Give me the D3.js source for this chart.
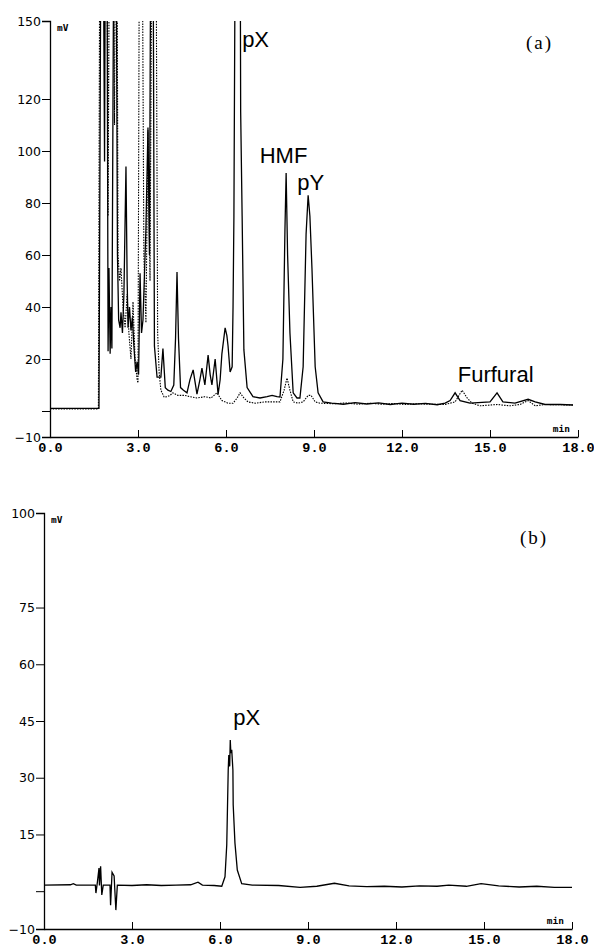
<!DOCTYPE html>
<html>
<head>
<meta charset="utf-8">
<script src="https://cdn.jsdelivr.net/npm/d3@7"></script>
<style>
  body { margin: 0; background: #fff; }
  .ytick text { font-family: "DejaVu Sans", Verdana, sans-serif; font-size: 12.5px; fill: #000; }
  .xtick text { font-family: "Liberation Mono", "Courier New", monospace; font-size: 13.5px; font-weight: bold; fill: #000; }
  .unit { font-family: "DejaVu Sans Mono", monospace; font-size: 9.5px; font-weight: bold; fill: #000; }
  .peak { font-family: "Liberation Sans", Arial, sans-serif; font-size: 22px; fill: #000; }
  .panel { font-family: "Liberation Serif", "Times New Roman", serif; font-size: 19px; letter-spacing: 2px; fill: #000; }
</style>
</head>
<body>
<div id="chart"></div>
<script>
// retention time (min), signal (mV)
var xTicks = [0, 3, 6, 9, 12, 15, 18];
var yTicksA = [150, 120, 100, 80, 60, 40, 20, 0, -10];
var yTicksB = [100, 75, 60, 45, 30, 15, 0, -10];

// (a) sample trace, solid
var solidA = [
  [0, 1], [1.67, 1], [1.74, 200], [1.81, 200], [1.86, 96], [1.89, 200], [1.94, 200],
  [1.98, 23], [2.01, 55], [2.05, 22], [2.08, 40], [2.11, 24], [2.18, 200], [2.25, 200],
  [2.30, 60], [2.34, 35], [2.39, 32], [2.42, 38], [2.47, 30], [2.52, 45], [2.59, 94],
  [2.63, 50], [2.66, 32], [2.71, 40], [2.76, 31], [2.81, 36], [2.86, 25], [2.92, 15],
  [2.97, 19], [3.02, 14], [3.07, 53], [3.12, 30], [3.17, 35], [3.27, 70], [3.34, 109],
  [3.39, 60], [3.44, 200], [3.51, 200], [3.56, 25], [3.65, 13], [3.78, 13], [3.85, 24],
  [3.93, 9], [4.02, 8], [4.12, 7.5], [4.22, 10], [4.28, 28], [4.33, 53.5], [4.38, 28],
  [4.45, 9], [4.55, 8], [4.67, 7], [4.77, 12], [4.88, 15.8], [5.01, 6.5], [5.11, 12],
  [5.18, 16.5], [5.28, 10], [5.39, 21.5], [5.46, 14], [5.52, 10], [5.63, 20], [5.73, 6.4],
  [5.80, 12], [5.86, 22], [5.97, 32], [6.03, 29], [6.07, 25], [6.14, 15], [6.21, 17],
  [6.24, 40], [6.27, 75], [6.32, 200], [6.48, 200], [6.50, 115], [6.55, 75], [6.61, 23.5],
  [6.72, 9], [6.92, 5.5], [7.16, 5], [7.40, 5.5], [7.57, 6], [7.74, 5.5], [7.84, 5.4],
  [7.94, 20], [8.01, 70], [8.05, 91.5], [8.10, 60], [8.18, 30], [8.29, 7], [8.42, 5],
  [8.52, 5], [8.63, 17], [8.73, 68], [8.80, 83], [8.86, 75], [8.93, 55], [9.04, 17],
  [9.14, 7], [9.31, 3.5], [9.6, 3.0], [10.0, 2.6], [10.4, 3.2], [10.8, 2.7], [11.2, 3.1],
  [11.6, 2.5], [12.0, 3.0], [12.4, 2.6], [12.8, 2.9], [13.2, 2.4], [13.47, 3], [13.64, 4],
  [13.81, 7], [13.98, 4], [14.32, 3], [15.00, 3.5], [15.24, 7], [15.44, 3.5], [15.85, 3],
  [16.30, 4.5], [16.54, 3.5], [16.88, 2.5], [17.39, 2.5], [17.83, 2.3]
];

// (a) standard trace, dotted
var dottedA = [
  [0, 0.8], [1.65, 0.8], [1.70, 200], [1.94, 200], [1.98, 75], [2.03, 200], [2.15, 200],
  [2.20, 110], [2.23, 200], [2.28, 200], [2.32, 60], [2.37, 50], [2.42, 55], [2.49, 40],
  [2.56, 32], [2.63, 45], [2.69, 30], [2.76, 20], [2.83, 42], [2.90, 20], [2.97, 12],
  [3.00, 10.8], [3.05, 200], [3.14, 200], [3.20, 60], [3.27, 34], [3.34, 108], [3.41, 50],
  [3.48, 200], [3.61, 200], [3.67, 30], [3.72, 15], [3.78, 8], [3.89, 5.4], [3.99, 5.5],
  [4.09, 6], [4.19, 7], [4.36, 6], [4.60, 6], [4.77, 5.5], [5.01, 5], [5.28, 5.5],
  [5.49, 5], [5.69, 7], [5.86, 4], [6.07, 3], [6.24, 3], [6.38, 5], [6.48, 7], [6.61, 5],
  [6.75, 3.5], [6.99, 3], [7.33, 3.5], [7.60, 3.5], [7.84, 3.5], [7.98, 8], [8.08, 12.7],
  [8.18, 8], [8.29, 3.5], [8.46, 3], [8.63, 3.5], [8.80, 6], [8.90, 6], [9.04, 3.5],
  [9.21, 3], [9.7, 2.8], [10.1, 3.1], [10.5, 2.6], [10.9, 3.0], [11.3, 2.6], [11.7, 2.9],
  [12.1, 2.5], [12.5, 2.8], [12.9, 2.6], [13.47, 2.5], [13.81, 3.5], [14.05, 8], [14.22, 5],
  [14.39, 3], [14.66, 2], [15.24, 2.5], [15.68, 2], [16.02, 2.5], [16.30, 4], [16.54, 2],
  [16.88, 2.5], [17.83, 2.3]
];

// (b)
var traceB = [
  [0, 1.6], [0.9, 1.7], [1.0, 2.0], [1.1, 1.6], [1.75, 1.6], [1.77, -0.5], [1.82, 2.4],
  [1.875, 6.1], [1.89, 1.5], [1.93, 6.6], [1.97, -1], [2.02, 1.6], [2.25, 1.6], [2.27, -3.7],
  [2.32, 5], [2.39, 4], [2.45, -5], [2.50, 1.6], [3.0, 1.5], [3.5, 1.7], [4.0, 1.5],
  [4.5, 1.6], [5.0, 1.7], [5.25, 2.4], [5.4, 1.6], [5.8, 1.5], [6.06, 1.3], [6.17, 3.8],
  [6.23, 12.2], [6.28, 32], [6.30, 36], [6.33, 33], [6.35, 40], [6.37, 36.5], [6.40, 37.4],
  [6.44, 32], [6.45, 22.8], [6.51, 12.7], [6.59, 5.6], [6.74, 2.0], [7.1, 1.6], [8.0, 1.5],
  [8.73, 1.0], [9.3, 1.3], [9.9, 2.1], [10.4, 1.4], [11.0, 1.2], [11.6, 1.3], [12.2, 1.1],
  [12.8, 1.4], [13.4, 1.3], [13.8, 1.6], [14.4, 1.3], [14.9, 2.0], [15.5, 1.4], [16.2, 1.1],
  [16.8, 1.3], [17.4, 1.0], [18.0, 1.0]
];

var peaksA = [
  {name: "pX", t: 6.55, v: 140},
  {name: "HMF", t: 7.15, v: 95.5},
  {name: "pY", t: 8.43, v: 85},
  {name: "Furfural", t: 13.9, v: 11}
];
var peaksB = [{name: "pX", t: 6.45, v: 44}];

var svg = d3.select("#chart").append("svg")
    .attr("width", 594)
    .attr("height", 950);

function panel(opt) {
  var x = d3.scaleLinear().domain([0, 18]).range([opt.left, opt.right]);
  var y = d3.scaleLinear().domain(opt.yDomain).range([opt.bottom, opt.top]);
  var g = svg.append("g");

  g.append("clipPath").attr("id", opt.id)
    .append("rect")
    .attr("x", opt.left).attr("y", opt.top)
    .attr("width", opt.right - opt.left).attr("height", opt.bottom - opt.top);

  var line = d3.line()
      .x(function(d) { return x(d[0]); })
      .y(function(d) { return y(d[1]); });

  opt.traces.forEach(function(tr) {
    g.append("path")
      .datum(tr.data)
      .attr("clip-path", "url(#" + opt.id + ")")
      .attr("fill", "none")
      .attr("stroke", "#000")
      .attr("stroke-width", tr.dotted ? 1.1 : 1.3)
      .attr("stroke-dasharray", tr.dotted ? "1.5,1.2" : null)
      .attr("d", line);
  });

  g.append("g")
      .attr("class", "ytick")
      .attr("transform", "translate(" + opt.left + ",0)")
      .call(d3.axisLeft(y).tickValues(opt.yTicks).tickSizeOuter(0).tickSize(8).tickPadding(1)
        .tickFormat(function(d) { return d === 0 ? "" : d3.format("d")(d); }));

  g.append("g")
      .attr("class", "xtick")
      .attr("transform", "translate(0," + opt.bottom + ")")
      .call(d3.axisBottom(x).tickValues(xTicks).tickSizeOuter(0).tickSizeInner(-7).tickPadding(5)
        .tickFormat(d3.format(".1f")));

  g.selectAll(".domain").attr("stroke-width", 1.3);

  g.append("text").attr("class", "unit")
      .attr("x", opt.left + 7).attr("y", opt.top + 10)
      .text("mV");
  g.append("text").attr("class", "unit")
      .attr("x", opt.right - 8).attr("y", opt.bottom - 5)
      .attr("text-anchor", "end")
      .text("min");

  g.selectAll(".peak")
    .data(opt.peaks)
    .enter().append("text")
      .attr("class", "peak")
      .attr("x", function(d) { return x(d.t); })
      .attr("y", function(d) { return y(d.v); })
      .text(function(d) { return d.name; });

  g.append("text").attr("class", "panel")
      .attr("x", opt.right - 52).attr("y", opt.labelY)
      .text(opt.label);
}

panel({id: "clipA", left: 50, right: 578, top: 21, bottom: 437, yDomain: [-10, 150],
  yTicks: yTicksA, label: "(a)", labelY: 49, peaks: peaksA,
  traces: [{data: dottedA, dotted: true}, {data: solidA, dotted: false}]});

panel({id: "clipB", left: 44, right: 572, top: 513, bottom: 929, yDomain: [-10, 100],
  yTicks: yTicksB, label: "(b)", labelY: 544, peaks: peaksB,
  traces: [{data: traceB, dotted: false}]});
</script>
</body>
</html>
